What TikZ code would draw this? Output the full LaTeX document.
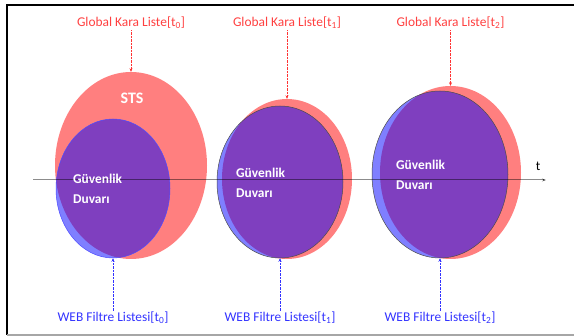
\documentclass[tikz,border=0pt]{standalone}
\usepackage{fontspec}
\setmainfont{Carlito}
\usetikzlibrary{arrows.meta, shapes.geometric}

\begin{document}
\begin{tikzpicture}[x=1pt, y=-1pt, font=\fontsize{13.4}{20}\selectfont,
  redset/.style = {ellipse, inner sep=0pt, fill=red, fill opacity=0.5},
  blueset/.style = {ellipse, inner sep=0pt, fill=blue, fill opacity=0.5, draw=black!70, line width=0.5pt},
  fwlabel/.style = {text=white, font=\bfseries\fontsize{13.4}{20}\selectfont, align=left, anchor=west, inner sep=0pt},
  gklabel/.style = {text=red!75, inner sep=1pt},
  weblabel/.style = {text=blue!80, inner sep=1pt},
  redarrow/.style = {-{Stealth[length=3.5pt, width=3pt]}, densely dotted, red!80, thin},
  bluearrow/.style = {-{Stealth[length=3.5pt, width=3pt]}, densely dotted, blue!80, thin},
  axis/.style = {-{Stealth[length=4pt, width=3pt]}, draw=black, draw opacity=0.45, line width=1pt}
]
\useasboundingbox (0,0) rectangle (574,336);
% frame
\draw[line width=1.5pt] (574,5) -- (7,5) -- (7,335);
\draw[gray!70, line width=1.5pt] (7,335) -- (574,335);

% sets at t0, t1, t2
\node[redset, minimum width=152pt, minimum height=187pt] (sts0) at (131,165.5) {};
\node[redset, minimum width=130pt, minimum height=160pt] (sts1) at (287,179) {};
\node[redset, minimum width=141pt, minimum height=173pt] (sts2) at (450.5,172.5) {};
\node[blueset, draw=blue!70, minimum width=114pt, minimum height=139pt] (fw0) at (113,188.5) {};
\node[blueset, minimum width=126pt, minimum height=152pt] (fw1) at (280,182) {};
\node[blueset, minimum width=136pt, minimum height=167pt] (fw2) at (440,174.5) {};

% time axis
\coordinate (tstart) at (33,180);
\coordinate (tend) at (546,180);
\draw[axis] (tstart) -- (tend);
\node (tlab) at (538,166) {t};

\node[text=white, font=\bfseries\fontsize{16}{18}\selectfont] (stslab) at (132,98) {STS};
\node[fwlabel] (fwtext0) at (73,189) {Güvenlik\\Duvarı};
\node[fwlabel] (fwtext1) at (236,183) {Güvenlik\\Duvarı};
\node[fwlabel] (fwtext2) at (396,175) {Güvenlik\\Duvarı};

\node[gklabel] (gk0) at (131,23) {Global Kara Liste[t\textsubscript{0}]};
\node[gklabel] (gk1) at (287,23) {Global Kara Liste[t\textsubscript{1}]};
\node[gklabel] (gk2) at (450.5,23) {Global Kara Liste[t\textsubscript{2}]};
\node[weblabel] (web0) at (113,318) {WEB Filtre Listesi[t\textsubscript{0}]};
\node[weblabel] (web1) at (280,318) {WEB Filtre Listesi[t\textsubscript{1}]};
\node[weblabel] (web2) at (440,318) {WEB Filtre Listesi[t\textsubscript{2}]};

\draw[redarrow] (gk0) -- (sts0.north);
\draw[redarrow] (gk1) -- (sts1.north);
\draw[redarrow] (gk2) -- (sts2.north);
\draw[bluearrow] (web0) -- (fw0.south);
\draw[bluearrow] (web1) -- (fw1.south);
\draw[bluearrow] (web2) -- (fw2.south);
\end{tikzpicture}
\end{document}
